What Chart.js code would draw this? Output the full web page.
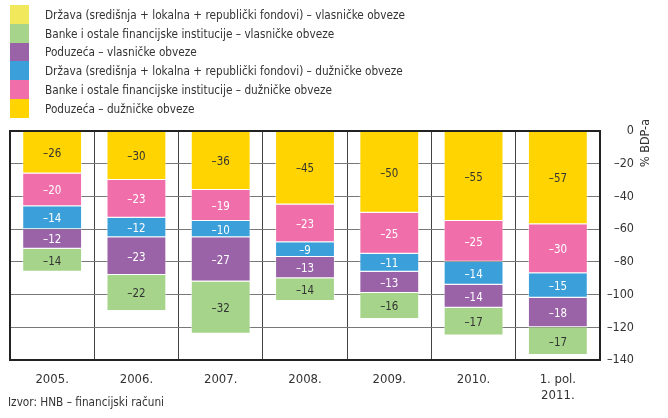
<!DOCTYPE html>
<html>
<head>
<meta charset="utf-8">
<script src="https://cdn.jsdelivr.net/npm/chart.js@4/dist/chart.umd.min.js"></script>
<style>
  html, body { margin: 0; padding: 0; background: #fff; }
  #wrap { position: relative; width: 668px; height: 418px; }
  #chart { position: absolute; left: 0; top: 0; }
  #legend { position: absolute; left: 10px; top: 5px; font-family: "DejaVu Sans Condensed", "Liberation Sans Narrow", sans-serif; font-size: 13px; color: #333; }
  #legend .row { height: 18.8px; display: flex; align-items: center; white-space: nowrap; }
  #legend .box { width: 19px; height: 18.8px; margin-right: 16px; flex: none; }
  #legend span { display: inline-block; transform: scaleX(0.9); transform-origin: left center; }
  #source { position: absolute; left: 8px; top: 394px; font-family: "DejaVu Sans Condensed", "Liberation Sans Narrow", sans-serif; font-size: 13px; color: #333; transform: scaleX(0.9); transform-origin: left center; white-space: nowrap; }
</style>
</head>
<body>
<div id="wrap">
  <canvas id="chart" width="668" height="418"></canvas>
  <div id="legend"></div>
  <div id="source">Izvor: HNB – financijski računi</div>
</div>
<script>
const labels = ['2005.', '2006.', '2007.', '2008.', '2009.', '2010.', ['1. pol.', '2011.']];
const yTicks = [0, -20, -40, -60, -80, -100, -120, -140];

// stacked from zero downward
const poduzecaDug = [-26, -30, -36, -45, -50, -55, -57];
const bankeDug = [-20, -23, -19, -23, -25, -25, -30];
const drzavaDug = [-14, -12, -10, -9, -11, -14, -15];
const poduzecaVlas = [-12, -23, -27, -13, -13, -14, -18];
const bankeVlas = [-14, -22, -32, -14, -16, -17, -17];
const drzavaVlas = [null, null, null, null, null, null, null];

const condensed = '"DejaVu Sans Condensed", "Liberation Sans Narrow", sans-serif';

const series = [
    { label: 'Poduzeća – dužničke obveze', data: poduzecaDug, color: '#FFD400', text: '#333' },
    { label: 'Banke i ostale financijske institucije – dužničke obveze', data: bankeDug, color: '#F06FAA', text: '#fff' },
    { label: 'Država (središnja + lokalna + republički fondovi) – dužničke obveze', data: drzavaDug, color: '#3BA0DA', text: '#fff' },
    { label: 'Poduzeća – vlasničke obveze', data: poduzecaVlas, color: '#9A62A7', text: '#fff' },
    { label: 'Banke i ostale financijske institucije – vlasničke obveze', data: bankeVlas, color: '#A6D48A', text: '#333' },
    { label: 'Država (središnja + lokalna + republički fondovi) – vlasničke obveze', data: drzavaVlas, color: '#F1E85B', text: '#333' }
];

// legend (reverse order, as in the original)
let legendEl = document.getElementById('legend');
series.slice().reverse().forEach(s => {
    let row = document.createElement('div');
    row.className = 'row';
    row.innerHTML = '<div class="box" style="background:' + s.color + '"></div><span>' + s.label + '</span>';
    legendEl.appendChild(row);
});

//plugins
const segmentLabels = {
    id: 'segmentLabels',
    afterDatasetsDraw(chart) {
        const { ctx } = chart;
        chart.data.datasets.forEach((ds, i) => {
            chart.getDatasetMeta(i).data.forEach((bar, j) => {
                let v = ds.data[j];
                if (v === null) return;
                ctx.save();
                ctx.translate(bar.x, (bar.y + bar.base) / 2 + 1);
                ctx.scale(0.88, 1);
                ctx.font = '13px ' + condensed;
                ctx.textAlign = 'center';
                ctx.textBaseline = 'middle';
                ctx.fillStyle = series[i].text;
                ctx.fillText('–' + Math.abs(v), 0, 0);
                ctx.restore();
            });
        });
    }
};

const frame = {
    id: 'frame',
    afterDraw(chart) {
        const { ctx, chartArea: { top, bottom, left, right } } = chart;
        ctx.save();
        ctx.strokeStyle = '#222';
        ctx.lineWidth = 2;
        ctx.strokeRect(left, top, right - left, bottom - top);
        // axis title, reading bottom to top
        ctx.translate(646, 143);
        ctx.rotate(-Math.PI / 2);
        ctx.font = '12.5px ' + condensed;
        ctx.fillStyle = '#333';
        ctx.textAlign = 'center';
        ctx.textBaseline = 'middle';
        ctx.fillText('% BDP-a', 0, 0);
        ctx.restore();
    }
};

const config = {
    type: 'bar',
    data: {
        labels: labels,
        datasets: series.map(s => ({
            label: s.label,
            data: s.data,
            backgroundColor: s.color,
            borderColor: 'rgba(255,255,255,0.5)',
            borderWidth: 1,
            barPercentage: 0.71,
            categoryPercentage: 1
        }))
    },
    options: {
        responsive: false,
        animation: { duration: 0 },
        layout: {
            padding: { left: 10, top: 131, right: 34, bottom: 0 }
        },
        plugins: {
            legend: { display: false },
            tooltip: { enabled: false }
        },
        scales: {
            x: {
                stacked: true,
                grid: { color: '#444', lineWidth: 1, offset: true, drawTicks: false },
                border: { display: false },
                ticks: {
                    font: { family: condensed, size: 13 },
                    color: '#333',
                    padding: 12
                },
                afterFit: (scale) => { scale.height = 58; }
            },
            y: {
                stacked: true,
                position: 'right',
                min: -140,
                max: 0,
                afterBuildTicks: (scale) => { scale.ticks = yTicks.map(v => ({ value: v })); },
                grid: { color: '#777', lineWidth: 1, drawTicks: false },
                border: { display: false },
                ticks: {
                    font: { family: condensed, size: 12.5 },
                    color: '#333',
                    padding: 5,
                    crossAlign: 'far',
                    callback: (v) => v === 0 ? '0' : '–' + Math.abs(v)
                },
                afterFit: (scale) => { scale.width = 34; }
            }
        }
    },
    plugins: [segmentLabels, frame]
};

new Chart(document.getElementById('chart'), config);
</script>
</body>
</html>
